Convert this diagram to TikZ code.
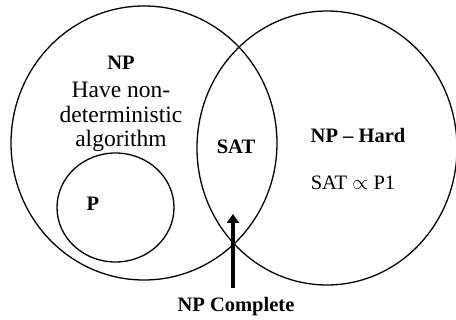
\documentclass[tikz,border=0pt]{standalone}
\usepackage{fontspec}
\setmainfont{Liberation Serif}
\usetikzlibrary{shapes.geometric,arrows.meta}
\tikzset{
  setline/.style={draw, ellipse, line width=1.3pt, inner sep=0pt},
  lbl/.style={font=\fontsize{20.5}{24}\selectfont, align=center, inner sep=0pt},
  desc/.style={font=\fontsize{23.5}{24.5}\selectfont, align=center, inner sep=0pt},
}
\begin{document}
\begin{tikzpicture}[x=1pt,y=-1pt]
\useasboundingbox (0,0) rectangle (456,320);
\node[setline, minimum width=266pt, minimum height=274pt] (NP) at (144,143) {};
\node[setline, minimum width=260pt, minimum height=274pt] (NPH) at (327,148) {};
\node[setline, minimum width=117pt, minimum height=109pt] (P) at (115.5,207.5) {};
\node[lbl] (npTitle) at (121,63) {\textbf{NP}};
\node[desc] (npDesc) at (121,117) {Have non-\\deterministic\\algorithm};
\node[lbl] (pText) at (93,204) {\textbf{P}};
\node[lbl] (sat) at (236,147) {\textbf{SAT}};
\node[lbl] (hard) at (358,135) {\textbf{NP -- Hard}};
\node[lbl] (red) at (353,183) {SAT $\propto$ P1};
\node[lbl] (cmpl) at (236,307) {\textbf{NP Complete}};
\coordinate (tail) at (233,288);
\coordinate (tip) at (233,214);
\draw[line width=4.5pt, -{Triangle[width=12pt,length=9pt]}] (tail) -- (tip);
\end{tikzpicture}
\end{document}
